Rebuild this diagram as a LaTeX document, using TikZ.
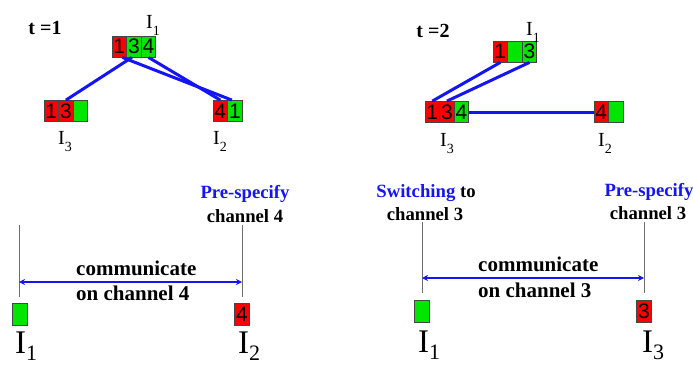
\documentclass[tikz,border=0pt]{standalone}
\usepackage{fontspec}
\setmainfont{Liberation Serif}
\newfontfamily\digitfont{Liberation Sans}
\usetikzlibrary{arrows.meta,calc}

\definecolor{chred}{RGB}{255,0,0}
\definecolor{chgreen}{RGB}{0,230,0}
\definecolor{linkblue}{RGB}{20,20,245}
\definecolor{rulegray}{RGB}{110,110,110}
\definecolor{cellrule}{RGB}{70,70,70}

% node label with a lowered index
\newcommand{\Itop}[1]{I\raisebox{-0.35em}{\fontsize{14}{14}\selectfont #1}}
\newcommand{\Ibig}[1]{I\raisebox{-0.22em}{\fontsize{22}{22}\selectfont #1}}

\tikzset{
  cellbox/.style={draw=cellrule, line width=0.8pt, minimum width=14.6pt,
    minimum height=21pt, inner sep=0pt, font=\digitfont\fontsize{21}{21}\selectfont},
  chipbox/.style={cellbox, minimum width=15pt, minimum height=22pt},
  redcell/.style={fill=chred},
  greencell/.style={fill=chgreen},
  link/.style={draw=linkblue, line width=3pt},
  guide/.style={draw=rulegray, line width=1pt},
  commarrow/.style={draw=linkblue, line width=1.6pt,
    {Stealth[length=6pt,width=6pt]}-{Stealth[length=6pt,width=6pt]}},
  timelab/.style={font=\bfseries\fontsize{20}{20}\selectfont, inner sep=0pt},
  toplab/.style={font=\fontsize{20}{20}\selectfont, inner sep=0pt, anchor=base west},
  biglab/.style={font=\fontsize{33}{33}\selectfont, inner sep=0pt, anchor=base west},
  headlab/.style={font=\bfseries\fontsize{18.7}{18.7}\selectfont, inner sep=0pt, anchor=base},
  msglab/.style={font=\bfseries\fontsize{21}{21}\selectfont, inner sep=0pt, anchor=base west},
}

\begin{document}
\begin{tikzpicture}[x=1pt,y=-1pt]
\useasboundingbox (0,0) rectangle (693,365);

% ---------------- t = 1 ----------------
\node[timelab] (tone) at (45,28) {t =1};

\node[cellbox,redcell]   (a1) at (119.3,46.5) {1};
\node[cellbox,greencell] (a3) at (133.9,46.5) {3};
\node[cellbox,greencell] (a4) at (148.5,46.5) {4};

\node[cellbox,redcell]   (b1) at (51.3,111) {1};
\node[cellbox,redcell]   (b3) at (65.9,111) {3};
\node[cellbox,greencell] (b0) at (80.5,111) {};

\node[cellbox,redcell]   (c4) at (220.3,111) {4};
\node[cellbox,greencell] (c1) at (234.9,111) {1};

\node[toplab] (la1) at (146,28) {\Itop{1}};
\node[toplab] (la3) at (58,144) {\Itop{3}};
\node[toplab] (la2) at (213,144) {\Itop{2}};

\draw[link] ($(a1.south)+(3,0)$) -- ($(c1.north)+(-3,0)$);
\draw[link] ($(a3.south)+(-2,0)$) -- (b3.north);
\draw[link] (a4.south) -- (c4.north);

% ---------------- t = 2 ----------------
\node[timelab] (ttwo) at (433,31) {t =2};

\node[cellbox,redcell]   (d1) at (500.3,51.5) {1};
\node[cellbox,greencell] (d0) at (514.9,51.5) {};
\node[cellbox,greencell] (d3) at (529.5,51.5) {3};

\node[cellbox,redcell]   (e1) at (432.3,112) {1};
\node[cellbox,redcell]   (e3) at (446.9,112) {3};
\node[cellbox,greencell] (e4) at (461.5,112) {4};

\node[cellbox,redcell]   (f4) at (601.3,112) {4};
\node[cellbox,greencell] (f0) at (615.9,112) {};

\node[toplab] (ld1) at (526,35) {\Itop{1}};
\node[toplab] (ld3) at (440,146) {\Itop{3}};
\node[toplab] (ld2) at (598,146) {\Itop{2}};

\draw[link] (d1.south) -- (e1.north);
\draw[link] (d3.south) -- (e3.north);
\draw[link] (e4.east) -- (f4.west);

% ---------------- link I1 -- I2 on channel 4 ----------------
\node[headlab,text=linkblue] (psa) at (245,198) {Pre-specify};
\node[headlab] (cha) at (245,222) {channel 4};

\coordinate (pa1) at (19,225);
\coordinate (pa2) at (19,297);
\coordinate (qa1) at (242,225);
\coordinate (qa2) at (242,297);
\coordinate (pam) at (19,282);
\coordinate (qam) at (242,282);
\draw[guide] (pa1) -- (pa2);
\draw[guide] (qa1) -- (qa2);
\draw[commarrow] (pam) -- (qam);

\node[msglab] (cma) at (76,275) {communicate};
\node[msglab] (ona) at (76,300) {on channel 4};

\node[chipbox,greencell] (ga) at (19.5,314) {};
\node[chipbox,redcell]   (ra) at (242,314) {4};
\node[biglab] (lga) at (15,353.5) {\Ibig{1}};
\node[biglab] (lra) at (238,353.5) {\Ibig{2}};

% ---------------- link I1 -- I3 on channel 3 ----------------
\node[headlab] (swb) at (426,197) {\textcolor{linkblue}{Switching} to};
\node[headlab] (chb) at (425,220) {channel 3};
\node[headlab,text=linkblue] (psb) at (649,196) {Pre-specify};
\node[headlab] (chc) at (648,219) {channel 3};

\coordinate (pb1) at (422,222);
\coordinate (pb2) at (422,293);
\coordinate (qb1) at (644,222);
\coordinate (qb2) at (644,293);
\coordinate (pbm) at (422,278);
\coordinate (qbm) at (644,278);
\draw[guide] (pb1) -- (pb2);
\draw[guide] (qb1) -- (qb2);
\draw[commarrow] (pbm) -- (qbm);

\node[msglab] (cmb) at (478,271) {communicate};
\node[msglab] (onb) at (478,297) {on channel 3};

\node[chipbox,greencell] (gb) at (422,311.5) {};
\node[chipbox,redcell]   (rb) at (644,311.5) {3};
\node[biglab] (lgb) at (418,352) {\Ibig{1}};
\node[biglab] (lrb) at (642,352) {\Ibig{3}};
\end{tikzpicture}
\end{document}
